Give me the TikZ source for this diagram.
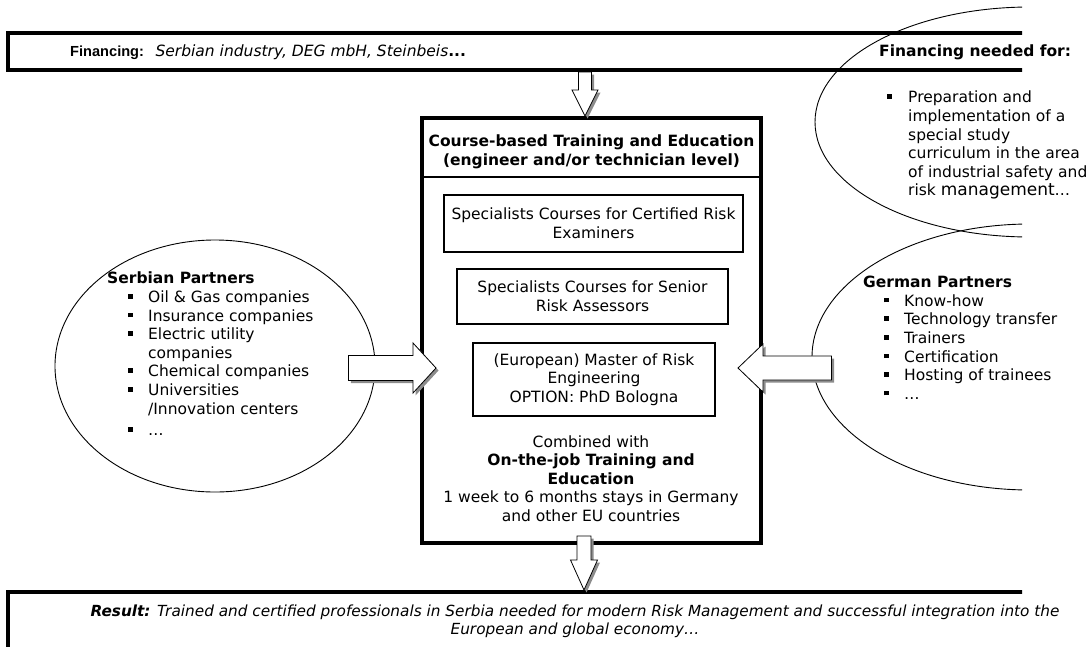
\documentclass[tikz,border=0pt]{standalone}
\usepackage{fontspec}
\setmainfont{DejaVu Sans}
\newfontfamily\arialfont{Liberation Sans}
\usetikzlibrary{shapes.geometric,shadows,calc,positioning}

\tikzset{
  every node/.style={font=\fontsize{15.5}{18.6}\selectfont},
  frame/.style={draw, line width=4pt, inner sep=0pt},
  coursebox/.style={draw, line width=1.4pt, align=center, inner sep=0pt},
  oval/.style={draw, ellipse, line width=0.9pt, inner sep=0pt},
  listtext/.style={align=left, anchor=north west, inner sep=0pt},
  blockarrow/.style={draw, line width=0.8pt, fill=white,
    drop shadow={shadow xshift=2.5pt, shadow yshift=-2.5pt, fill=black!45, opacity=1}},
}

% square bullet, bullet item and continued line
\newcommand{\sq}{\rule[4pt]{4.5pt}{4.5pt}}
\newcommand{\li}{\hspace*{21pt}\makebox[20pt][l]{\sq}}
\newcommand{\lc}{\hspace*{41pt}}

% block arrow: from, to, shaft half width, head half width, head length
\newcommand{\fatarrow}[5]{%
  \coordinate (hb) at ($(#2)!#5!(#1)$);
  \path[blockarrow] ($(#1)!#3!90:(#2)$) -- ($(hb)!#3!90:(#2)$) -- ($(hb)!#4!90:(#2)$)
    -- (#2) -- ($(hb)!#4!-90:(#2)$) -- ($(hb)!#3!-90:(#2)$) -- ($(#1)!#3!-90:(#2)$) -- cycle;
}

\begin{document}
\begin{tikzpicture}[x=1pt, y=-1pt]
\useasboundingbox (0,0) rectangle (1089,646);

\begin{scope}
\clip (0,0) rectangle (1022,646);
\node[frame, minimum width=1032pt, minimum height=37pt] (fin) at (524,51.5) {};
\node[frame, minimum width=1032pt, minimum height=70pt] (res) at (524,627) {};
\node[oval, minimum width=430pt, minimum height=230pt] (need) at (1030,122) {};
\node[oval, minimum width=436pt, minimum height=266pt] (germ) at (1030,357) {};
\end{scope}

\node[oval, minimum width=320pt, minimum height=252pt] (serb) at (215,366) {};

% centre block
\node[draw, line width=4pt, minimum width=339pt, minimum height=425pt] (course) at (591.5,330.5) {};
\node[align=center, font=\fontsize{15.5}{18.6}\selectfont\bfseries] (title) at (591.5,152)
  {Course-based Training and Education\\(engineer and/or technician level)};
\coordinate (sep) at (0,177);
\draw[line width=1.4pt] (course.west |- sep) -- (course.east |- sep);

\node[coursebox, minimum width=299pt, minimum height=57pt] (exam) at (593.5,223.5)
  {Specialists Courses for Certified Risk\\Examiners};
\node[coursebox, minimum width=271pt, minimum height=55pt] (assess) at (592.5,296.5)
  {Specialists Courses for Senior\\Risk Assessors};
\node[coursebox, minimum width=242pt, minimum height=73pt] (master) at (594,379.5)
  {(European) Master of Risk\\Engineering\\OPTION: PhD Bologna};
\node[align=center] (job) at (591,478.5)
  {Combined with\\\textbf{On-the-job Training and}\\\textbf{Education}\\
   1 week to 6 months stays in Germany\\and other EU countries};

% texts
\node[anchor=west, inner sep=0pt] (fintxt) at (70,52)
  {{\arialfont\fontsize{14.6}{17}\selectfont\bfseries Financing:}\hspace{5pt} \textit{Serbian industry, DEG mbH, Steinbeis}\textbf{...}};
\node[align=center, font=\fontsize{15.3}{18}\selectfont\itshape] (restxt) at (575,621)
  {\textbf{Result:} Trained and certified professionals in Serbia needed for modern Risk Management and successful integration into the\\
   European and global economy\ldots};

\node[anchor=west, inner sep=0pt, font=\fontsize{15.5}{18.6}\selectfont\bfseries] (needhead) at (879,52) {Financing needed for:};
\node[listtext] (needlist) at (879,91)
  {\hspace*{8pt}\makebox[21pt][l]{\sq}Preparation and\\
   \hspace*{29pt}implementation of a\\
   \hspace*{29pt}special study\\
   \hspace*{29pt}curriculum in the area\\
   \hspace*{29pt}of industrial safety and\\
   \hspace*{29pt}risk {\fontsize{17}{18.6}\selectfont management}\ldots};

\node[listtext] (serbtxt) at (107,272)
  {\textbf{Serbian Partners}\\
   \li Oil \& Gas companies\\
   \li Insurance companies\\
   \li Electric utility\\
   \lc companies\\
   \li Chemical companies\\
   \li Universities\\
   \lc /Innovation centers\\[3pt]
   \li \ldots};

\node[listtext] (germtxt) at (863,276)
  {\textbf{German Partners}\\
   \li Know-how\\
   \li Technology transfer\\
   \li Trainers\\
   \li Certification\\
   \li Hosting of trainees\\
   \li \ldots};

% block arrows
\path (fin.south -| course.north) ++(-6.5,0) coordinate (t1);
\path (course.north) ++(-6.5,0) coordinate (t2);
\path (course.south) ++(-7.5,-9) coordinate (b1);
\coordinate (b2) at (b1 |- res.north);
\path (serb.east) ++(-27,2) coordinate (l1);
\path (l1 -| course.west) ++(16,0) coordinate (l2);
\path (germ.west) ++(20,11) coordinate (r1);
\path (r1 -| course.east) ++(-25,0) coordinate (r2);

\fatarrow{t1}{t2}{6.5pt}{13pt}{26pt}
\fatarrow{b1}{b2}{7pt}{13.5pt}{30pt}
\fatarrow{l1}{l2}{12.5pt}{25pt}{23pt}
\fatarrow{r1}{r2}{12pt}{24pt}{25pt}
\end{tikzpicture}
\end{document}
